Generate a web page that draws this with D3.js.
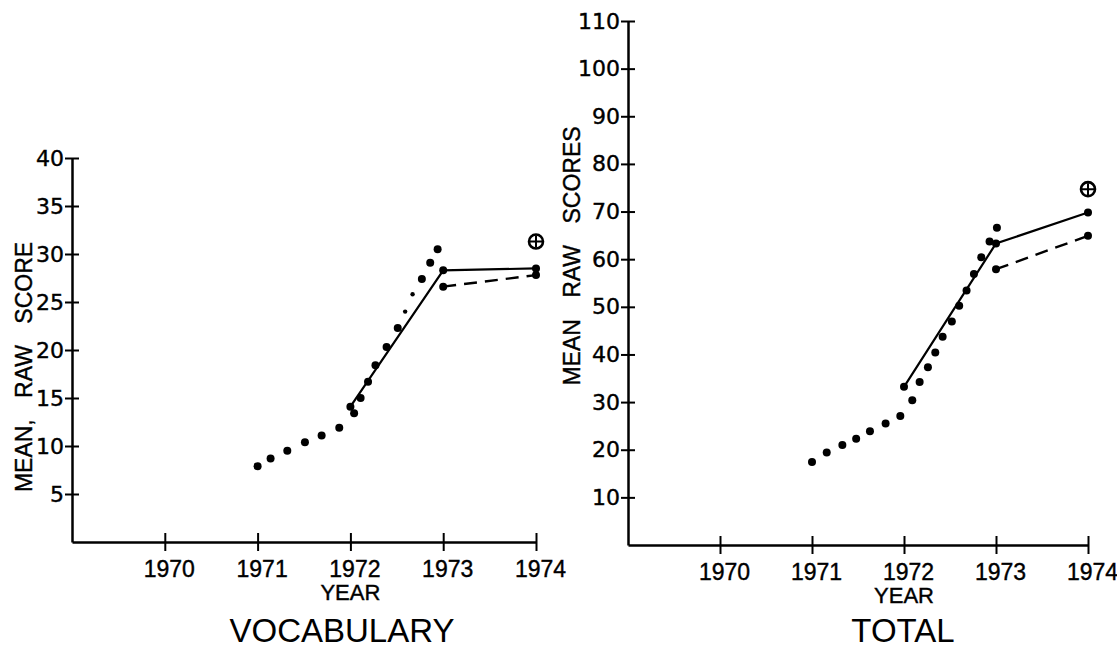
<!DOCTYPE html>
<html>
<head>
<meta charset="utf-8">
<script src="https://cdn.jsdelivr.net/npm/d3@7"></script>
<style>
  html, body { margin: 0; padding: 0; background: #fff; }
  svg { display: block; }
</style>
</head>
<body>
<svg id="chart" width="1117" height="648"></svg>
<script>
// ---------- data ----------
const yearTicks = [1970, 1971, 1972, 1973, 1974];
const vocabTicks = [5, 10, 15, 20, 25, 30, 35, 40];
const totalTicks = [10, 20, 30, 40, 50, 60, 70, 80, 90, 100, 110];

// VOCABULARY
const vocabDotYears  = [1971.0, 1971.14, 1971.32, 1971.51, 1971.69, 1971.88, 1972.04, 1972.11, 1972.19, 1972.27, 1972.39, 1972.51, 1972.77, 1972.86, 1972.94];
const vocabDotValues = [7.9, 8.7, 9.5, 10.4, 11.1, 11.9, 13.4, 15.0, 16.7, 18.4, 20.3, 22.3, 27.4, 29.1, 30.5];
const vocabFaintYears  = [1972.59, 1972.67];
const vocabFaintValues = [24.0, 25.8];
const vocabSolidYears  = [1972, 1973, 1974];
const vocabSolidValues = [14.1, 28.3, 28.5];
const vocabDashedYears  = [1973, 1974];
const vocabDashedValues = [26.6, 27.8];
const vocabTargetYear = 1974, vocabTargetValue = 31.3;

// TOTAL
const totalDotYears  = [1971.0, 1971.16, 1971.33, 1971.48, 1971.63, 1971.80, 1971.96, 1972.09, 1972.17, 1972.26, 1972.34, 1972.42, 1972.52, 1972.60, 1972.68, 1972.76, 1972.84, 1972.93, 1973.01];
const totalDotValues = [17.4, 19.4, 21.0, 22.3, 23.9, 25.5, 27.1, 30.4, 34.2, 37.3, 40.4, 43.7, 46.9, 50.2, 53.4, 56.9, 60.4, 63.7, 66.6];
const totalSolidYears  = [1972, 1973, 1974];
const totalSolidValues = [33.2, 63.3, 69.8];
const totalDashedYears  = [1973, 1974];
const totalDashedValues = [57.9, 64.9];
const totalTargetYear = 1974, totalTargetValue = 74.7;

// ---------- drawing ----------
const svg = d3.select("#chart");
const FONT = "'Liberation Sans', Arial, sans-serif";
const NUMFONT = "'DejaVu Sans', 'Liberation Sans', sans-serif";

function zip(xs, ys) { return xs.map((x, i) => ({ x: x, y: ys[i] })); }

function panel(cfg) {
  const x = d3.scaleLinear().domain([1969, 1974]).range(cfg.xRange);
  const y = d3.scaleLinear().domain([0, cfg.yMax]).range(cfg.yRange);
  const g = svg.append("g");
  const x0 = cfg.xRange[0], y0 = cfg.yRange[0];

  // y axis
  const ya = g.append("g").attr("transform", `translate(${x0},0)`)
    .call(d3.axisLeft(y).tickValues(cfg.yTicks).tickSize(7).tickSizeOuter(0).tickPadding(1));
  ya.select(".domain").attr("stroke", "#000").attr("stroke-width", 2.5);
  ya.selectAll(".tick line").attr("x1", -7).attr("x2", 7).attr("stroke", "#000").attr("stroke-width", 2);
  ya.selectAll(".tick text").attr("font-family", NUMFONT).attr("font-size", 22).attr("fill", "#000")
    .attr("stroke", "#000").attr("stroke-width", 0.4);

  // x axis
  const xa = g.append("g").attr("transform", `translate(0,${y0})`)
    .call(d3.axisBottom(x).tickValues(yearTicks).tickFormat(d3.format("d")).tickSize(9).tickSizeOuter(0));
  xa.select(".domain").attr("stroke", "#000").attr("stroke-width", 2.5);
  xa.selectAll(".tick line").attr("y1", -9).attr("y2", 9).attr("stroke", "#000").attr("stroke-width", 2);
  xa.selectAll(".tick text").attr("font-family", FONT).attr("font-size", 23).attr("fill", "#000")
    .attr("stroke", "#000").attr("stroke-width", 0.4)
    .attr("y", 35).attr("dy", 0).attr("dx", 4);

  // year label
  g.append("text").attr("x", x(1972)).attr("y", y0 + 58)
    .attr("text-anchor", "middle").attr("font-family", FONT).attr("font-size", 22)
    .attr("stroke", "#000").attr("stroke-width", 0.4).text("YEAR");
  // panel title
  g.append("text").attr("x", cfg.titleX).attr("y", 642)
    .attr("text-anchor", "middle").attr("font-family", FONT).attr("font-size", 33).text(cfg.title);
  // y title
  g.append("text").attr("transform", `translate(${cfg.yTitleX},${cfg.yTitleY}) rotate(-90)`)
    .attr("text-anchor", "middle").attr("font-family", FONT).attr("font-size", 23)
    .attr("stroke", "#000").attr("stroke-width", 0.4)
    .attr("word-spacing", 15).text(cfg.yTitle);

  // lines
  const line = d3.line().x(d => x(d.x)).y(d => y(d.y));
  g.append("path").datum(cfg.solid).attr("d", line)
    .attr("fill", "none").attr("stroke", "#000").attr("stroke-width", 2.2);
  g.append("path").datum(cfg.dashed).attr("d", line)
    .attr("fill", "none").attr("stroke", "#000").attr("stroke-width", 2.4).attr("stroke-dasharray", "13,8");

  // dots
  const dots = cfg.dots.concat(cfg.solid, cfg.dashed);
  g.selectAll("circle.dot").data(dots).join("circle").attr("class", "dot")
    .attr("cx", d => x(d.x)).attr("cy", d => y(d.y)).attr("r", 4).attr("fill", "#000");
  g.selectAll("circle.faint").data(cfg.faint).join("circle").attr("class", "faint")
    .attr("cx", d => x(d.x)).attr("cy", d => y(d.y)).attr("r", 2.2).attr("fill", "#000");

  // target symbol (circled plus)
  const tx = x(cfg.target.x), ty = y(cfg.target.y);
  const t = g.append("g").attr("transform", `translate(${tx},${ty})`);
  t.append("circle").attr("r", 7).attr("fill", "none").attr("stroke", "#000").attr("stroke-width", 2.6);
  t.append("path").attr("d", "M-6,0H6M0,-6V6").attr("stroke", "#000").attr("stroke-width", 2);
}

panel({
  xRange: [72, 536], yRange: [542, 158], yMax: 40, yTicks: vocabTicks,
  title: "VOCABULARY", titleX: 342, yTitle: "MEAN, RAW SCORE", yTitleX: 32, yTitleY: 367,
  dots: zip(vocabDotYears, vocabDotValues), faint: zip(vocabFaintYears, vocabFaintValues),
  solid: zip(vocabSolidYears, vocabSolidValues), dashed: zip(vocabDashedYears, vocabDashedValues),
  target: { x: vocabTargetYear, y: vocabTargetValue }
});

panel({
  xRange: [628, 1088], yRange: [545, 21], yMax: 110, yTicks: totalTicks,
  title: "TOTAL", titleX: 903, yTitle: "MEAN RAW SCORES", yTitleX: 580, yTitleY: 256,
  dots: zip(totalDotYears, totalDotValues), faint: [],
  solid: zip(totalSolidYears, totalSolidValues), dashed: zip(totalDashedYears, totalDashedValues),
  target: { x: totalTargetYear, y: totalTargetValue }
});
</script>
</body>
</html>
